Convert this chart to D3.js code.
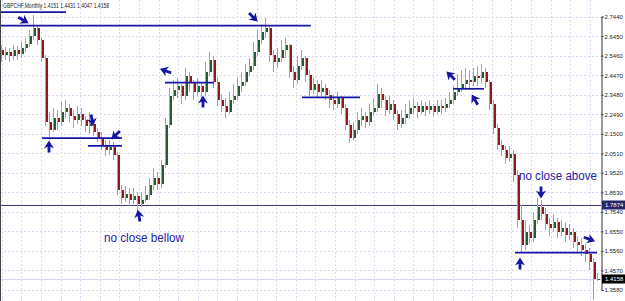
<!DOCTYPE html>
<html>
<head>
<meta charset="utf-8">
<script src="https://cdn.jsdelivr.net/npm/d3@7"></script>
<style>
  body { margin: 0; background: #fff; }
  svg { display: block; }
  text { font-family: "Liberation Sans", Arial, sans-serif; }
</style>
</head>
<body>
<div id="chart"></div>
<script>
// GBPCHF monthly, values
var firstOpen = 2.575;
var closes = [
  2.549, 2.564, 2.544, 2.575, 2.554, 2.585, 2.605, 2.645, 2.686, 2.625,
  2.534, 2.209, 2.169, 2.230, 2.209, 2.260, 2.280, 2.240, 2.220, 2.250,
  2.220, 2.189, 2.199, 2.159, 2.128, 2.093, 2.068, 2.083, 2.042, 1.865,
  1.824, 1.845, 1.814, 1.834, 1.794, 1.814, 1.839, 1.890, 1.926, 1.895,
  1.991, 2.194, 2.341, 2.372, 2.392, 2.341, 2.443, 2.412, 2.362, 2.392,
  2.362, 2.463, 2.524, 2.412, 2.321, 2.291, 2.260, 2.321, 2.341, 2.392,
  2.412, 2.463, 2.493, 2.564, 2.625, 2.666, 2.686, 2.549, 2.514, 2.534,
  2.575, 2.600, 2.463, 2.422, 2.493, 2.534, 2.448, 2.372, 2.402, 2.362,
  2.382, 2.346, 2.321, 2.301, 2.331, 2.280, 2.194, 2.128, 2.169, 2.220,
  2.240, 2.209, 2.260, 2.280, 2.351, 2.321, 2.270, 2.301, 2.250, 2.199,
  2.230, 2.250, 2.280, 2.291, 2.260, 2.291, 2.270, 2.291, 2.260, 2.291,
  2.280, 2.301, 2.321, 2.362, 2.382, 2.402, 2.422, 2.412, 2.443, 2.433,
  2.463, 2.412, 2.301, 2.179, 2.093, 2.068, 2.027, 2.047, 1.941, 1.713,
  1.586, 1.652, 1.621, 1.713, 1.778, 1.743, 1.692, 1.672, 1.702, 1.652,
  1.672, 1.637, 1.652, 1.601, 1.586, 1.561, 1.540, 1.500, 1.4151, 1.4158
];
var highs = [
  2.600, 2.590, 2.585, 2.600, 2.595, 2.615, 2.635, 2.676, 2.752, 2.701,
  2.635, 2.549, 2.260, 2.280, 2.270, 2.311, 2.321, 2.301, 2.270, 2.291,
  2.280, 2.240, 2.260, 2.230, 2.179, 2.159, 2.118, 2.118, 2.108, 2.057,
  1.890, 1.885, 1.875, 1.875, 1.855, 1.855, 1.885, 1.926, 1.976, 1.956,
  2.017, 2.230, 2.382, 2.422, 2.433, 2.402, 2.483, 2.463, 2.422, 2.433,
  2.412, 2.514, 2.564, 2.544, 2.433, 2.351, 2.331, 2.362, 2.402, 2.433,
  2.463, 2.504, 2.534, 2.615, 2.676, 2.706, 2.737, 2.696, 2.575, 2.585,
  2.625, 2.635, 2.605, 2.493, 2.544, 2.575, 2.544, 2.473, 2.433, 2.422,
  2.422, 2.402, 2.372, 2.351, 2.362, 2.341, 2.301, 2.220, 2.209, 2.260,
  2.280, 2.260, 2.301, 2.331, 2.402, 2.382, 2.341, 2.341, 2.321, 2.270,
  2.270, 2.301, 2.321, 2.331, 2.311, 2.321, 2.311, 2.321, 2.301, 2.321,
  2.321, 2.331, 2.362, 2.392, 2.453, 2.473, 2.483, 2.473, 2.483, 2.493,
  2.504, 2.483, 2.422, 2.321, 2.199, 2.118, 2.088, 2.088, 2.068, 1.966,
  1.789, 1.713, 1.687, 1.753, 1.824, 1.814, 1.773, 1.723, 1.743, 1.723,
  1.713, 1.702, 1.692, 1.672, 1.631, 1.621, 1.591, 1.571, 1.520, 1.4431
];
var lows = [
  2.514, 2.524, 2.514, 2.524, 2.524, 2.534, 2.564, 2.590, 2.625, 2.600,
  2.514, 2.189, 2.118, 2.159, 2.169, 2.189, 2.230, 2.209, 2.179, 2.199,
  2.189, 2.159, 2.149, 2.138, 2.108, 2.068, 2.037, 2.042, 2.017, 1.839,
  1.794, 1.804, 1.784, 1.794, 1.753, 1.778, 1.804, 1.814, 1.865, 1.865,
  1.875, 1.976, 2.179, 2.321, 2.331, 2.301, 2.321, 2.362, 2.321, 2.341,
  2.321, 2.341, 2.443, 2.382, 2.291, 2.260, 2.230, 2.250, 2.301, 2.321,
  2.362, 2.392, 2.443, 2.473, 2.544, 2.605, 2.635, 2.514, 2.463, 2.483,
  2.514, 2.534, 2.433, 2.382, 2.402, 2.473, 2.412, 2.341, 2.351, 2.331,
  2.341, 2.321, 2.280, 2.270, 2.280, 2.250, 2.169, 2.103, 2.118, 2.149,
  2.189, 2.179, 2.189, 2.240, 2.260, 2.280, 2.240, 2.250, 2.220, 2.169,
  2.179, 2.199, 2.230, 2.250, 2.230, 2.250, 2.240, 2.250, 2.240, 2.250,
  2.250, 2.260, 2.280, 2.301, 2.341, 2.362, 2.372, 2.372, 2.392, 2.392,
  2.402, 2.382, 2.270, 2.149, 2.068, 2.037, 1.997, 2.007, 1.905, 1.672,
  1.548, 1.561, 1.591, 1.601, 1.692, 1.713, 1.662, 1.631, 1.652, 1.621,
  1.631, 1.601, 1.611, 1.571, 1.550, 1.530, 1.500, 1.459, 1.307, 1.4047
];

var priceTicks = [2.7440, 2.6450, 2.5460, 2.4470, 2.3480, 2.2490, 2.1500, 2.0510,
                  1.9520, 1.8530, 1.7540, 1.6550, 1.5560, 1.4570, 1.3580];
var headerText = 'GBPCHF,Monthly  1.4151 1.4431 1.4047 1.4158';
var markedLevel = 1.7874;
var lastPrice = 1.4158;

// drawn trend lines (bar index from/to, price)
var levelFrom  = [-0.5, -0.5, 10, 21.5, 40.75, 75, 112.75, 128.25];
var levelTo    = [16, 77.2, 30, 30, 53, 89.5, 120.5, 148.75];
var levelPrice = [2.767, 2.698, 2.128, 2.089, 2.409, 2.335, 2.378, 1.547];

// arrows (bar index, price, direction in degrees, 0 = up)
var arrowBar   = [5.25, 62.75, 11.75, 22.5, 28.5, 34.25, 41, 50.25, 112.25, 118.25, 134.75, 129.5, 146.75];
var arrowPrice = [2.727, 2.742, 2.083, 2.220, 2.144, 1.733, 2.468, 2.311, 2.443, 2.321, 1.855, 1.490, 1.616];
var arrowDir   = [120, 135, 0, 170, 225, -10, 290, 0, -45, -30, 180, 0, 110];

var noteText  = ['no close bellow', 'no close above'];
var noteBar   = [25.5, 129.25];
var notePrice = [1.601, 1.915];
var noteWidth = [80, 78];

var W = 625, H = 301, plotRight = 601;
var blue = '#1616a4';

var svg = d3.select('#chart').append('svg')
    .attr('width', W)
    .attr('height', H)
    .style('background', '#fff');

var x = d3.scaleLinear().domain([0, closes.length - 1]).range([2, 598]);
var y = d3.scaleLinear().domain([1.3580, 2.7440]).range([290, 16.6]);

// grid
var grid = svg.append('g');
grid.selectAll('line.h').data(priceTicks).enter().append('line')
    .attr('x1', 0).attr('x2', plotRight)
    .attr('y1', function(d){ return Math.round(y(d)) + 0.5; })
    .attr('y2', function(d){ return Math.round(y(d)) + 0.5; })
    .attr('stroke', '#dadaf2').attr('stroke-dasharray', '2,2');
grid.selectAll('line.v').data(d3.range(1.7, plotRight, 19.6)).enter().append('line')
    .attr('x1', function(d){ return Math.round(d) + 0.5; })
    .attr('x2', function(d){ return Math.round(d) + 0.5; })
    .attr('y1', 0).attr('y2', H)
    .attr('stroke', '#dadaf2').attr('stroke-dasharray', '2,2');

// last price line
svg.append('line')
    .attr('x1', 0).attr('x2', plotRight)
    .attr('y1', Math.round(y(lastPrice)) + 0.5).attr('y2', Math.round(y(lastPrice)) + 0.5)
    .attr('stroke', '#d6d6f4');

// marked level
svg.append('line')
    .attr('x1', 0).attr('x2', plotRight)
    .attr('y1', Math.round(y(markedLevel)) + 0.5).attr('y2', Math.round(y(markedLevel)) + 0.5)
    .attr('stroke', '#3c3c7c');

// candles
var bars = closes.map(function(c, i){
    return { i: i, o: i === 0 ? firstOpen : closes[i - 1], c: c, h: highs[i], l: lows[i] };
});

var candle = svg.append('g').selectAll('g').data(bars).enter().append('g');
candle.append('line')
    .attr('x1', function(d){ return Math.round(x(d.i)) - 0.5; })
    .attr('x2', function(d){ return Math.round(x(d.i)) - 0.5; })
    .attr('y1', function(d){ return y(d.h); })
    .attr('y2', function(d){ return y(d.l); })
    .attr('stroke', '#a2a2a2').attr('stroke-width', 1);
candle.append('rect')
    .attr('x', function(d){ return Math.round(x(d.i)); })
    .attr('width', 2)
    .attr('y', function(d){ return Math.round(y(Math.max(d.o, d.c))); })
    .attr('height', function(d){ return Math.max(1, Math.round(Math.abs(y(d.o) - y(d.c)))); })
    .attr('fill', function(d){ return d.c >= d.o ? '#2a5a32' : '#8e1a1a'; });

// trend lines
svg.append('g').selectAll('line').data(levelPrice).enter().append('line')
    .attr('x1', function(d, i){ return x(levelFrom[i]); })
    .attr('x2', function(d, i){ return x(levelTo[i]); })
    .attr('y1', function(d){ return y(d); })
    .attr('y2', function(d){ return y(d); })
    .attr('stroke', blue).attr('stroke-width', 1.7);

// arrows
var arrowPath = 'M0,-6.5L5,1.5L1.4,-0.2L1.4,5.5L-1.4,5.5L-1.4,-0.2L-5,1.5Z';
svg.append('g').selectAll('path').data(arrowDir).enter().append('path')
    .attr('d', arrowPath)
    .attr('transform', function(d, i){
        return 'translate(' + x(arrowBar[i]) + ',' + y(arrowPrice[i]) + ') rotate(' + d + ')';
    })
    .attr('fill', blue);

// notes
svg.append('g').selectAll('text').data(noteText).enter().append('text')
    .attr('x', function(d, i){ return x(noteBar[i]); })
    .attr('y', function(d, i){ return y(notePrice[i]); })
    .attr('font-size', 12)
    .attr('fill', '#2323a6')
    .attr('textLength', function(d, i){ return noteWidth[i]; })
    .attr('lengthAdjust', 'spacingAndGlyphs')
    .text(function(d){ return d; });

// header
svg.append('text')
    .attr('x', 3).attr('y', 8)
    .attr('font-size', 7)
    .attr('fill', '#222')
    .attr('textLength', 106).attr('lengthAdjust', 'spacingAndGlyphs')
    .text(headerText);

// frame + price axis
svg.append('line').attr('x1', 0.5).attr('x2', 0.5).attr('y1', 0).attr('y2', H).attr('stroke', '#444');
svg.append('rect').attr('x', plotRight + 0.5).attr('y', 0).attr('width', W - plotRight).attr('height', H).attr('fill', '#fff');

var axis = d3.axisRight(y)
    .tickValues(priceTicks)
    .tickFormat(d3.format('.4f'))
    .tickSize(2)
    .tickPadding(1);

var ax = svg.append('g')
    .attr('transform', 'translate(' + (plotRight + 0.5) + ',0)')
    .call(axis);
ax.select('.domain').attr('stroke', '#333');
ax.selectAll('.tick line').attr('stroke', '#333');
ax.selectAll('.tick text')
    .attr('font-size', 6)
    .attr('font-family', '"Liberation Sans", Arial, sans-serif')
    .attr('fill', '#222');

// price tags
var tags = [
    { v: markedLevel, bg: '#25256a' },
    { v: lastPrice, bg: '#000' }
];
var tag = svg.append('g').selectAll('g').data(tags).enter().append('g')
    .attr('transform', function(d){ return 'translate(' + (plotRight + 1) + ',' + Math.round(y(d.v)) + ')'; });
tag.append('rect')
    .attr('x', 0).attr('y', -4.5).attr('width', W - plotRight - 1).attr('height', 9)
    .attr('fill', function(d){ return d.bg; });
tag.append('text')
    .attr('x', 3).attr('y', 2.2)
    .attr('font-size', 6)
    .attr('fill', '#fff')
    .text(function(d){ return d3.format('.4f')(d.v); });
</script>
</body>
</html>
